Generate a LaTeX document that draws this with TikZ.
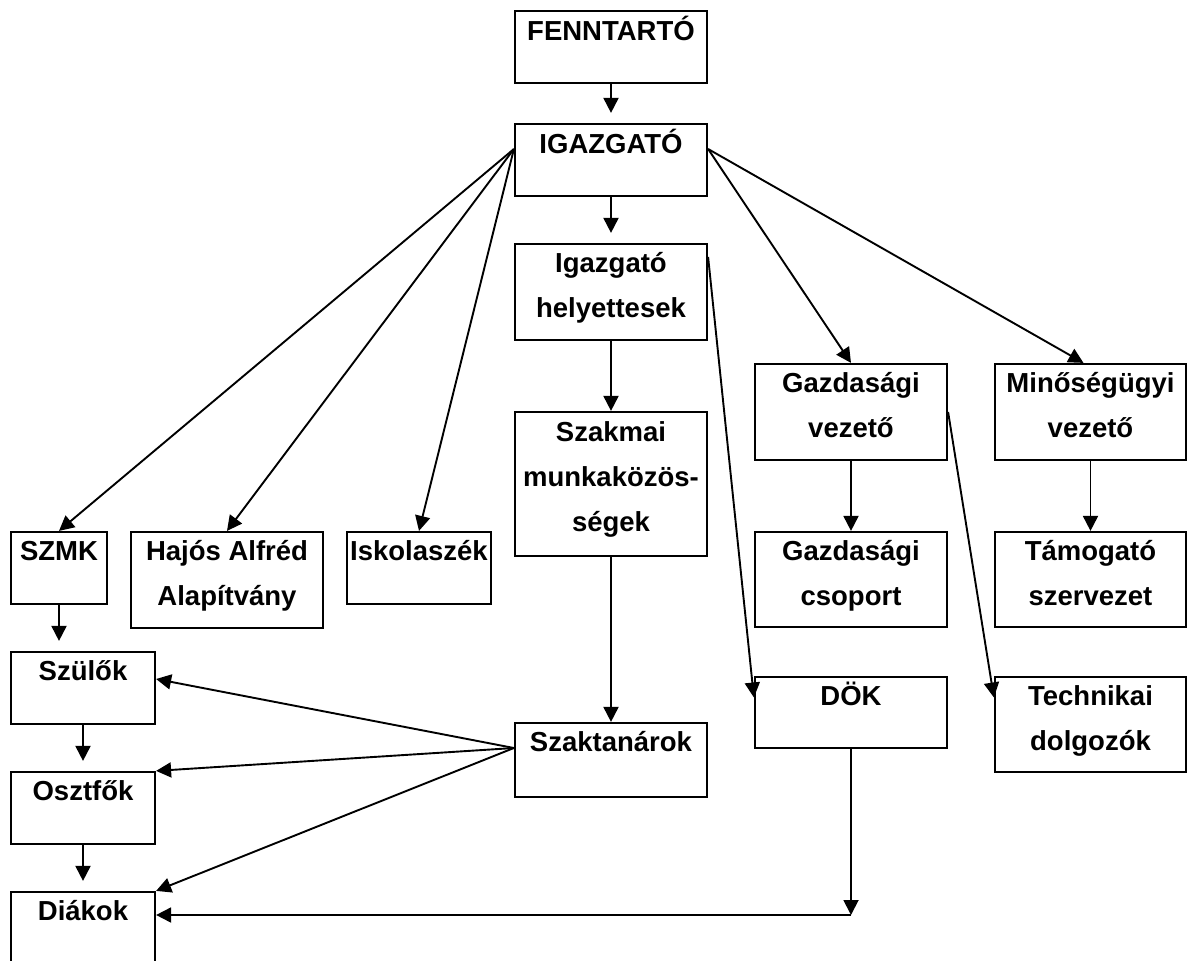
\documentclass[tikz,border=0pt]{standalone}
\usepackage{fontspec}
\setmainfont{Liberation Sans}
\usetikzlibrary{arrows.meta}
\begin{document}
\begin{tikzpicture}[x=1pt,y=-1pt,
  box/.style={draw, line width=2.2pt, inner sep=0pt},
  lbl/.style={font=\fontsize{27.5}{45}\selectfont\bfseries, align=center, inner sep=0pt, anchor=base},
  arr/.style={line width=1.9pt, -{Triangle[length=15pt,width=15pt]}},
  gap/.style={shorten >=10pt}]
\clip (0,0) rectangle (1187,961);
\fill[white] (0,0) rectangle (1187,961);
% boxes
\node[box, minimum width=192pt, minimum height=72pt] (fen) at (611,47) {};
\node[box, minimum width=192pt, minimum height=72pt] (igz) at (611,160) {};
\node[box, minimum width=192pt, minimum height=96pt] (hely) at (611,292) {};
\node[box, minimum width=192pt, minimum height=144pt] (szm) at (611,484) {};
\node[box, minimum width=192pt, minimum height=74pt] (szt) at (611,760) {};
\node[box, minimum width=192pt, minimum height=96pt] (gv) at (851,412) {};
\node[box, minimum width=191pt, minimum height=96pt] (mv) at (1090.5,412) {};
\node[box, minimum width=192pt, minimum height=95pt] (gcs) at (851,579.5) {};
\node[box, minimum width=191pt, minimum height=95pt] (tam) at (1090.5,579.5) {};
\node[box, minimum width=192pt, minimum height=71pt] (dok) at (851,712.5) {};
\node[box, minimum width=191pt, minimum height=95pt] (tech) at (1090.5,724.5) {};
\node[box, minimum width=96pt, minimum height=72pt] (szmk) at (59,568) {};
\node[box, minimum width=192pt, minimum height=96pt] (hajos) at (227,580) {};
\node[box, minimum width=144pt, minimum height=72pt] (isk) at (419,568) {};
\node[box, minimum width=144pt, minimum height=72pt] (szul) at (83,688) {};
\node[box, minimum width=144pt, minimum height=72pt] (oszt) at (83,808) {};
\node[box, minimum width=144pt, minimum height=80pt] (diak) at (83,932) {};
% texts (anchor=base is the baseline of the last line)
\node[lbl] (fenT) at ([yshift=-31pt]fen.north) {FENNTARTÓ};
\node[lbl] (igzT) at ([yshift=-31pt]igz.north) {IGAZGATÓ};
\node[lbl] (helyT) at ([yshift=-75pt]hely.north) {Igazgató\\helyettesek};
\node[lbl] (szmT) at ([yshift=-121pt]szm.north) {Szakmai\\munkaközös-\\ségek};
\node[lbl] (sztT) at ([yshift=-30pt]szt.north) {Szaktanárok};
\node[lbl] (gvT) at ([yshift=-75pt]gv.north) {Gazdasági\\vezető};
\node[lbl] (mvT) at ([yshift=-75pt]mv.north) {Minőségügyi\\vezető};
\node[lbl] (gcsT) at ([yshift=-75pt]gcs.north) {Gazdasági\\csoport};
\node[lbl] (tamT) at ([yshift=-75pt]tam.north) {Támogató\\szervezet};
\node[lbl] (dokT) at ([yshift=-30pt]dok.north) {DÖK};
\node[lbl] (techT) at ([yshift=-75pt]tech.north) {Technikai\\dolgozók};
\node[lbl] (szmkT) at ([yshift=-30pt]szmk.north) {SZMK};
\node[lbl] (hajosT) at ([yshift=-75pt]hajos.north) {Hajós Alfréd\\Alapítvány};
\node[lbl] (iskT) at ([yshift=-30pt]isk.north) {Iskolaszék};
\node[lbl] (szulT) at ([yshift=-30pt]szul.north) {Szülők};
\node[lbl] (osztT) at ([yshift=-30pt]oszt.north) {Osztfők};
\node[lbl] (diakT) at ([yshift=-30pt]diak.north) {Diákok};
% vertical arrows
\draw[arr, gap] (fen.south) -- (igz.north);
\draw[arr, gap] (igz.south) -- (hely.north);
\draw[arr] (hely.south) -- (szm.north);
\draw[arr] (szm.south) -- (szt.north);
\draw[arr] (gv.south) -- (gcs.north);
\draw[arr] (mv.south) -- (tam.north);
\draw[arr, gap] (szmk.south) -- (szmk.south |- szul.north);
\draw[arr, gap] (szul.south) -- (oszt.north);
\draw[arr, gap] (oszt.south) -- (diak.north);
% fan from IGAZGATO
\coordinate (igzL) at ([yshift=11pt]igz.west);
\coordinate (igzR) at ([yshift=11pt]igz.east);
\draw[arr] (igzL) -- (szmk.north);
\draw[arr] (igzL) -- (hajos.north);
\draw[arr] (igzL) -- (isk.north);
\draw[arr] (igzR) -- (gv.north);
\draw[arr] (igzR) -- ([xshift=-7pt]mv.north);
% long diagonals
\draw[arr] ([yshift=-14pt]hely.north east) -- ([yshift=15pt]dok.west);
\draw[arr] (gv.east) -- ([yshift=27pt]tech.west);
% from Szaktanarok
\coordinate (sztL) at ([yshift=12pt]szt.west);
\draw[arr] (sztL) -- ([yshift=9pt]szul.east);
\draw[arr] (sztL) -- (oszt.north east);
\draw[arr] (sztL) -- (diak.north east);
% from DOK
\coordinate (corner) at (851,915);
\draw[arr] (dok.south) -- (corner);
\draw[arr] (corner) -- (corner -| diak.east);
\end{tikzpicture}
\end{document}
